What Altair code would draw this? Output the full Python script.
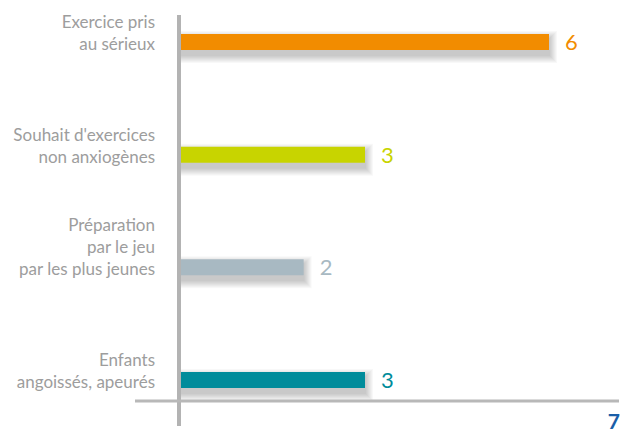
import altair as alt
import pandas as pd

categories = [
    "Exercice pris\nau sérieux",
    "Souhait d'exercices\nnon anxiogènes",
    "Préparation\npar le jeu\npar les plus jeunes",
    "Enfants\nangoissés, apeurés",
]
values = [6, 3, 2, 3]
colors = ["#F28C00", "#C8D400", "#A8B9C2", "#008C9B"]
page_number = "7"

df = pd.DataFrame({"cat": categories, "value": values, "zero": [0] * 4, "color": colors})

# one row per label line, k = line index counted from the bottom
rows = []
for c in categories:
    parts = c.split("\n")
    n = len(parts)
    for i, p in enumerate(parts):
        rows.append({"cat": c, "line": p, "k": n - 1 - i})
lines_df = pd.DataFrame(rows)

xs = alt.Scale(domain=[0, 6], range=[173, 541])
ys = alt.Scale(type="point", domain=categories, range=[34, 372], padding=0)

X = alt.X("zero:Q", scale=xs, axis=None)
X2 = alt.X2("value:Q")
Y = alt.Y("cat:N", scale=ys, axis=None, sort=categories)

base = alt.Chart(df)

shadows = []
for i in range(8):
    sw = 18 + 2 * i
    shadows.append(
        base.mark_rule(strokeWidth=sw, color="#000000", opacity=0.028, yOffset=5, x2Offset=1 + i)
        .encode(x=X, x2=X2, y=Y)
    )

bars = base.mark_rule(strokeWidth=16, strokeCap="butt").encode(
    x=X, x2=X2, y=Y, color=alt.Color("color:N", scale=None)
)

vals = base.mark_text(align="left", baseline="middle", dx=16, dy=1, fontSize=22, font="Lato").encode(
    x=alt.X("value:Q", scale=xs, axis=None),
    y=Y,
    text=alt.Text("value:Q"),
    color=alt.Color("color:N", scale=None),
)

label_layers = []
for k in range(3):
    label_layers.append(
        alt.Chart(lines_df).transform_filter(alt.datum.k == k).mark_text(
            align="right", baseline="alphabetic", dy=8 - 22 * k, fontSize=17, font="Lato",
            color="#9d9d9d",
        ).encode(x=alt.value(147), y=Y, text="line:N")
    )

vline = alt.Chart(pd.DataFrame({"a": [0]})).mark_rule(color="#b3b3b3", strokeWidth=4).encode(
    x=alt.value(171), y=alt.value(7), y2=alt.value(418)
)
hline = alt.Chart(pd.DataFrame({"a": [0]})).mark_rule(color="#b8b8b8", strokeWidth=3).encode(
    x=alt.value(127), x2=alt.value(611), y=alt.value(393)
)
pnum = alt.Chart(pd.DataFrame({"t": [page_number]})).mark_text(
    align="right", baseline="alphabetic", fontSize=21, fontWeight="bold", font="Lato", color="#1A5EA8"
).encode(x=alt.value(612), y=alt.value(421), text="t:N")

chart = alt.layer(*shadows, bars, vline, hline, vals, *label_layers, pnum).properties(
    width=612, height=422, padding=0, autosize=alt.AutoSizeParams(type="none")
).configure_view(stroke=None)

chart.save("out.html", embed_options={"renderer": "svg", "actions": False})
